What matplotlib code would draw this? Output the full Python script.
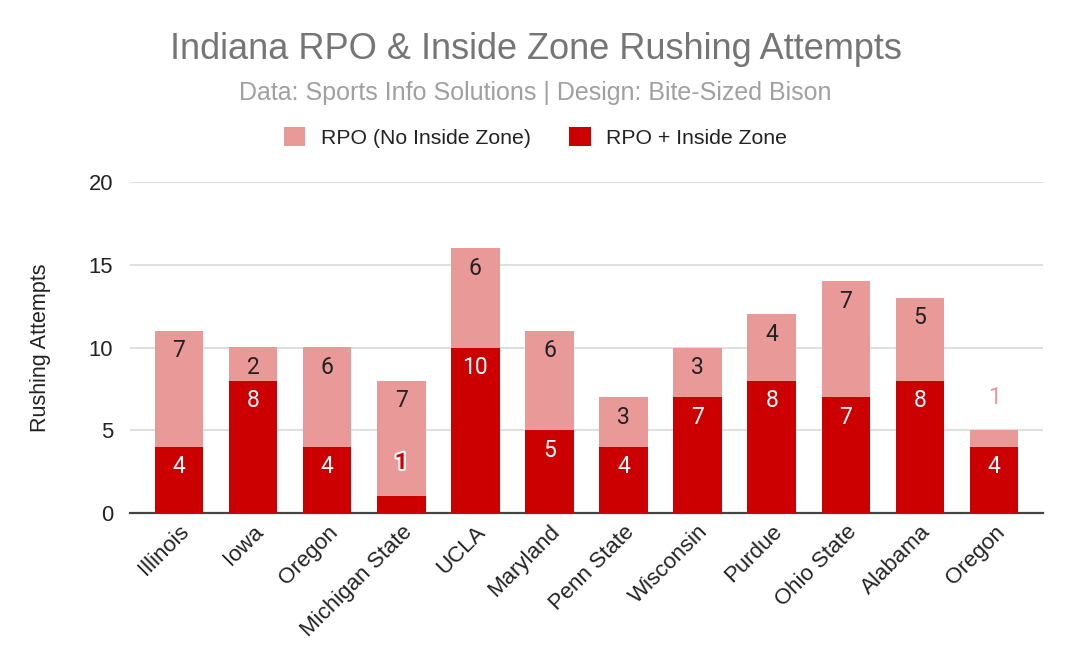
import matplotlib
matplotlib.use("Agg")
import matplotlib.pyplot as plt
import matplotlib.patheffects as pe
import numpy as np

categories = ["Illinois", "Iowa", "Oregon", "Michigan State", "UCLA", "Maryland",
              "Penn State", "Wisconsin", "Purdue", "Ohio State", "Alabama", "Oregon"]
rpo_iz = [4, 8, 4, 1, 10, 5, 4, 7, 8, 7, 8, 4]
rpo_no_iz = [7, 2, 6, 7, 6, 6, 3, 3, 4, 7, 5, 1]

plt.rcParams['font.family'] = ['Liberation Sans', 'DejaVu Sans']

fig = plt.figure(figsize=(10.67, 6.56), dpi=100)
ax = fig.add_axes([130 / 1067, 1 - 513 / 656, 913 / 1067, 331 / 656])

dark = "#cc0000"
light = "#ea9999"
x = np.arange(len(categories))
w = 0.655
b1 = ax.bar(x, rpo_iz, w, color=dark, zorder=3, label="RPO + Inside Zone")
b2 = ax.bar(x, rpo_no_iz, w, bottom=rpo_iz, color=light, zorder=3, label="RPO (No Inside Zone)")

lab_font = ['Roboto', 'DejaVu Sans']
lab_size = 16.5
for i in range(len(categories)):
    v1, v2 = rpo_iz[i], rpo_no_iz[i]
    if v1 >= 2:
        ax.annotate(str(v1), (x[i], v1), xytext=(0, -20), textcoords="offset pixels",
                    ha="center", va="center", color="white", fontsize=lab_size,
                    family=lab_font, zorder=5)
    else:
        ax.annotate(str(v1), (x[i], v1), xytext=(0, 34), textcoords="offset pixels",
                    ha="center", va="center", color=dark, fontsize=lab_size, fontweight="bold",
                    family=lab_font, zorder=5,
                    path_effects=[pe.withStroke(linewidth=3, foreground="white")])
    top = v1 + v2
    if v2 >= 2:
        ax.annotate(str(v2), (x[i], top), xytext=(0, -20), textcoords="offset pixels",
                    ha="center", va="center", color="#222222", fontsize=lab_size,
                    family=lab_font, zorder=5)
    else:
        ax.annotate(str(v2), (x[i], top), xytext=(0, 33), textcoords="offset pixels",
                    ha="center", va="center", color=light, fontsize=lab_size,
                    family=lab_font, zorder=5)

ax.set_ylim(0, 20)
ax.set_xlim(-0.66, len(categories) - 0.34)
ax.set_yticks([0, 5, 10, 15, 20])
ax.yaxis.grid(True, color="#d9d9d9", linewidth=1.2, zorder=0)
ax.set_axisbelow(True)
for s in ["top", "right", "left"]:
    ax.spines[s].set_visible(False)
ax.spines["bottom"].set_color("#444444")
ax.spines["bottom"].set_linewidth(1.6)
ax.tick_params(axis="y", length=0, labelsize=15.8, labelcolor="#222222", pad=12)
ax.tick_params(axis="x", length=0, labelsize=16, labelcolor="#222222", pad=6)
ax.set_xticks(x)
ax.set_xticklabels(categories, rotation=45, ha="right", rotation_mode="anchor")
ax.set_ylabel("Rushing Attempts", fontsize=15.5, color="#222222", labelpad=27)

fig.text(0.502, 0.925, "Indiana RPO & Inside Zone Rushing Attempts", ha="center", va="center",
         fontsize=26, color="#757575")
fig.text(0.502, 0.858, "Data: Sports Info Solutions | Design: Bite-Sized Bison", ha="center",
         va="center", fontsize=18, color="#a0a0a0")

handles = [b2, b1]
leg = fig.legend(handles, ["RPO (No Inside Zone)", "RPO + Inside Zone"], loc="center",
                 bbox_to_anchor=(0.502, 0.79), ncol=2, frameon=False, fontsize=15.3,
                 handlelength=1.0, handleheight=1.0, columnspacing=1.8, handletextpad=0.75)
for t in leg.get_texts():
    t.set_color("#222222")

fig.savefig("out.png", dpi=100, facecolor="white")
